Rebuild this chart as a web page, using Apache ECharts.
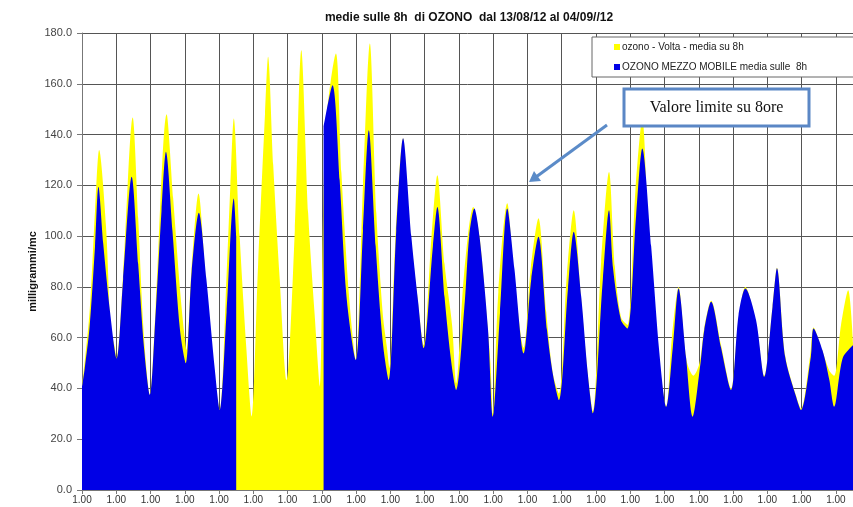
<!DOCTYPE html>
<html>
<head>
<meta charset="utf-8">
<script src="https://cdn.jsdelivr.net/npm/echarts@6/dist/echarts.min.js"></script>
<style>
  html, body { margin: 0; padding: 0; background: #fff; }
  #chart { width: 853px; height: 507px; }
</style>
</head>
<body>
<div id="chart"></div>
<script>
// giorni dall'inizio del periodo (13/08/12), valori in milligrammi/mc
var voltaDays = [0, 0.22, 0.38, 0.5, 0.7, 0.84, 0.93, 1.01, 1.2, 1.48, 1.64, 1.8, 1.98,
  2.15, 2.47, 2.66, 2.86, 2.98, 3.05, 3.2, 3.4, 3.6, 3.85, 4.02, 4.22, 4.33, 4.43, 4.6, 4.8, 4.95,
  5.14, 5.34, 5.43, 5.58, 5.77, 5.97, 6.21, 6.4, 6.6, 6.79, 6.94, 7.1, 7.41, 7.57, 7.8, 7.99,
  8.2, 8.4, 8.59, 8.78, 8.9, 8.97, 9.15, 9.37, 9.55, 9.78, 9.97, 10.2, 10.37, 10.58, 10.8, 10.92,
  11.15, 11.42, 11.6, 11.82, 11.92, 11.99, 12.15, 12.41, 12.6, 12.89, 13.1, 13.32, 13.55, 13.74, 13.92,
  14.15, 14.35, 14.55, 14.75, 14.91, 15.15, 15.38, 15.55, 15.73, 15.92, 16.15, 16.35, 16.55, 16.8,
  17.05, 17.22, 17.41, 17.6, 17.68, 17.84, 18.02, 18.16, 18.36, 18.65, 18.94, 19.15, 19.36, 19.65,
  19.91, 20.15, 20.28, 20.52, 20.84, 20.98, 21.25, 21.35, 21.6, 21.81, 21.95, 22.15, 22.36, 22.5];
var voltaVals = [40.7, 70, 110, 133.9, 104, 62, 58, 51.8, 85, 146.7, 107, 62, 37.4,
  72, 148, 115, 79, 62, 55, 88, 116.8, 85, 47, 31.5, 85, 120, 146.3, 100, 55, 28.9,
  89, 148, 170.6, 128, 83, 43.3, 102, 173.2, 109, 69, 40.7, 140, 171.9, 125, 75, 51.2,
  120, 175.9, 109, 69, 56, 48, 100, 138.5, 106, 77, 57, 100, 124, 89, 65, 42,
  85, 111.5, 100, 67, 50, 30, 78, 112.9, 86, 56, 88, 107, 70, 46, 38,
  85, 110.2, 78, 47, 31, 90, 125.3, 88, 68, 65, 118, 146, 95, 56,
  33, 61, 80, 55, 49, 45, 50, 64, 74.5, 57, 40, 66, 80, 67,
  45, 72, 87.5, 53, 37, 32, 53, 64, 55, 47, 45, 65, 78.7, 58];

var mobileDays = [0, 0.08, 0.22, 0.38, 0.48, 0.62, 0.82, 1.01, 1.2, 1.45, 1.64, 1.81, 1.98,
  2.15, 2.32, 2.45, 2.64, 2.86, 3.03, 3.2, 3.41, 3.63, 3.88, 4.02, 4.22, 4.43, 4.5, 4.8,
  7.05, 7.31, 7.52, 7.72, 7.99, 8.2, 8.37, 8.57, 8.78, 8.95, 9.17, 9.37, 9.61, 9.81, 9.97,
  10.24, 10.37, 10.58, 10.78, 10.92, 11.17, 11.3, 11.45, 11.6, 11.85, 11.99, 12.2, 12.41, 12.62, 12.89,
  13.11, 13.32, 13.57, 13.75, 13.92, 14.18, 14.35, 14.57, 14.76, 14.91, 15.2, 15.38, 15.5, 15.73, 15.92,
  16.17, 16.35, 16.61, 16.85, 17.05, 17.24, 17.41, 17.63, 17.82, 18.05, 18.16, 18.36, 18.65, 18.94,
  19.16, 19.36, 19.67, 19.91, 20.15, 20.28, 20.52, 20.84, 20.98, 21.27, 21.35, 21.61, 21.81, 21.95,
  22.2, 22.5];
var mobileVals = [40.7, 48, 64, 96, 119.4, 97, 70, 51.8, 83, 123.4, 89, 56, 37.4,
  70, 110, 133.2, 102, 63, 49.9, 86, 109.2, 83, 47, 31.5, 70, 114.8, 100, '-',
  143, 159.4, 122, 76, 51.2, 102, 141.7, 96, 58, 43.3, 102, 138.5, 100, 74, 55.8,
  96, 111.5, 76, 50, 39.4, 74, 100, 110.9, 100, 63, 28.9, 70, 110.9, 87, 53.8,
  83, 99.7, 63, 45, 35.4, 79, 101.7, 76, 46, 30.2, 83, 110.2, 87, 66.9, 63.6,
  108, 134.5, 96, 54, 32.8, 56, 79.4, 52, 28.9, 50, 63, 74.1, 56, 39.4,
  69, 79.4, 67, 44.6, 72, 87.3, 52.5, 36.7, 31.5, 52.5, 63.6, 55, 43.3, 32.8,
  52, 57];

var xMax = 22.5;
var yTicks = [0, 20, 40, 60, 80, 100, 120, 140, 160, 180];

function pairs(xs, ys) {
  return xs.map(function (x, i) { return [x, ys[i]]; });
}

var chart = echarts.init(document.getElementById('chart'), null, { renderer: 'canvas' });
var gridColor = '#555';
var font = 'Liberation Sans, Arial, sans-serif';

chart.setOption({
  animation: false,
  backgroundColor: '#fff',
  title: {
    text: 'medie sulle 8h  di OZONO  dal 13/08/12 al 04/09//12',
    left: 464, top: 7, textAlign: 'center',
    textStyle: { fontFamily: 'Liberation Sans Narrow, Liberation Sans, sans-serif', fontSize: 12, fontWeight: 'bold', color: '#111' }
  },
  legend: {
    orient: 'vertical',
    left: 592, top: 37,
    padding: [5, 80, 5, 22],
    itemGap: 10,
    itemWidth: 6, itemHeight: 6,
    icon: 'rect',
    backgroundColor: '#fff',
    borderColor: '#666', borderWidth: 1,
    textStyle: { fontFamily: font, fontSize: 10, color: '#222', padding: [0, 0, 0, -3] },
    data: ['ozono - Volta - media su 8h', 'OZONO MEZZO MOBILE media sulle  8h']
  },
  grid: { left: 82, right: 0, top: 33, bottom: 17 },
  xAxis: {
    type: 'value', min: 0, max: xMax, interval: 1,
    axisLine: { show: true, lineStyle: { color: '#777' } },
    axisTick: { show: true, length: 4, lineStyle: { color: '#777' } },
    axisLabel: { showMaxLabel: false, margin: 5, fontFamily: font, fontSize: 10, color: '#333', formatter: function () { return '1.00'; } },
    splitLine: { show: true, lineStyle: { color: gridColor, width: 1 } }
  },
  yAxis: {
    type: 'value', min: yTicks[0], max: yTicks[yTicks.length - 1], interval: yTicks[1] - yTicks[0],
    name: 'milligrammi/mc', nameLocation: 'middle', nameGap: 44, nameMoveOverlap: false,
    nameTextStyle: { fontFamily: font, fontSize: 11, fontWeight: 'bold', color: '#111', padding: [0, 20, 0, 0] },
    axisLine: { show: true, lineStyle: { color: '#777' } },
    axisTick: { show: true, length: 5, lineStyle: { color: '#777' } },
    axisLabel: { margin: 10, fontFamily: font, fontSize: 11, color: '#444', formatter: function (v) { return v.toFixed(1); } },
    splitLine: { show: true, lineStyle: { color: gridColor, width: 1 } }
  },
  series: [
    {
      name: 'ozono - Volta - media su 8h',
      type: 'line',
      data: pairs(voltaDays, voltaVals),
      smooth: 0.3,
      showSymbol: false,
      itemStyle: { color: '#ffff00' },
      lineStyle: { width: 0 },
      areaStyle: { color: '#ffff00', opacity: 1 }
    },
    {
      name: 'OZONO MEZZO MOBILE media sulle  8h',
      type: 'line',
      data: pairs(mobileDays, mobileVals),
      connectNulls: false,
      smooth: 0.3,
      showSymbol: false,
      itemStyle: { color: '#0000e6' },
      lineStyle: { width: 0 },
      areaStyle: { color: '#0000e6', opacity: 1 }
    }
  ],
  graphic: [
    {
      type: 'line', z: 100,
      shape: { x1: 607, y1: 125, x2: 536, y2: 177 },
      style: { stroke: '#5b8bc8', lineWidth: 3 }
    },
    {
      type: 'polygon', z: 100,
      shape: { points: [[529, 182], [541, 181], [534, 171]] },
      style: { fill: '#5b8bc8' }
    },
    {
      type: 'rect', z: 100,
      shape: { x: 624, y: 89, width: 185, height: 37 },
      style: { fill: '#fff', stroke: '#5b87c5', lineWidth: 3 }
    },
    {
      type: 'text', z: 101,
      x: 716.5, y: 107.5,
      style: { text: 'Valore limite su 8ore', fontFamily: 'Liberation Serif, Times New Roman, serif', fontSize: 16, fill: '#111', align: 'center', verticalAlign: 'middle' }
    }
  ]
});
</script>
</body>
</html>
